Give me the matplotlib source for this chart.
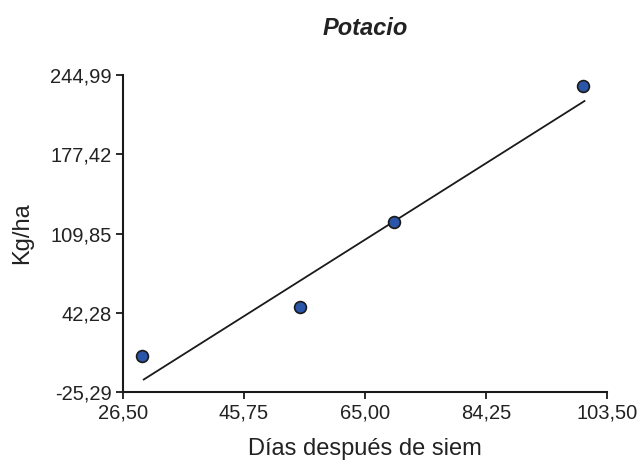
import matplotlib
matplotlib.use("Agg")
import matplotlib.pyplot as plt

plt.rcParams['font.family'] = ['Liberation Sans', 'DejaVu Sans']

# datos
dias = [29.6, 54.7, 69.6, 99.7]
kg_ha = [5.8, 46.9, 119.9, 235.8]
recta_x = [29.8, 99.9]
recta_y = [-14.5, 222.8]

x_ticks = [26.50, 45.75, 65.00, 84.25, 103.50]
y_ticks = [-25.29, 42.28, 109.85, 177.42, 244.99]


def coma(v):
    return f"{v:.2f}".replace(".", ",")


fig = plt.figure(figsize=(6.42, 4.63), dpi=100)
ax = fig.add_axes([0.1916, 0.153, 0.754, 0.685])

ax.plot(recta_x, recta_y, color='#1a1a1a', linewidth=1.3)
ax.plot(dias, kg_ha, 'o', markersize=8.5, markerfacecolor='#2b55a8',
        markeredgecolor='#1a1a1a', markeredgewidth=1.2)

ax.set_xlim(x_ticks[0], x_ticks[-1])
ax.set_ylim(y_ticks[0], y_ticks[-1])
ax.set_xticks(x_ticks)
ax.set_xticklabels([coma(v) for v in x_ticks])
ax.set_yticks(y_ticks)
ax.set_yticklabels([coma(v) for v in y_ticks])

for s in ['top', 'right']:
    ax.spines[s].set_visible(False)
for s in ['left', 'bottom']:
    ax.spines[s].set_linewidth(1.5)
    ax.spines[s].set_color('#1a1a1a')
ax.tick_params(axis='both', direction='out', length=5, width=1.3,
               labelsize=14.5, colors='#1a1a1a', pad=3)
for lab in ax.get_xticklabels() + ax.get_yticklabels():
    lab.set_color('#222222')

ax.set_xlabel("Días después de siem", fontsize=17, color='#222222', labelpad=11)
ax.set_ylabel("Kg/ha", fontsize=17, color='#222222', labelpad=12)
ax.set_title("Potacio", fontsize=17, fontweight='bold', fontstyle='italic',
             color='#222222', pad=29)

fig.savefig("out.png", dpi=100)
